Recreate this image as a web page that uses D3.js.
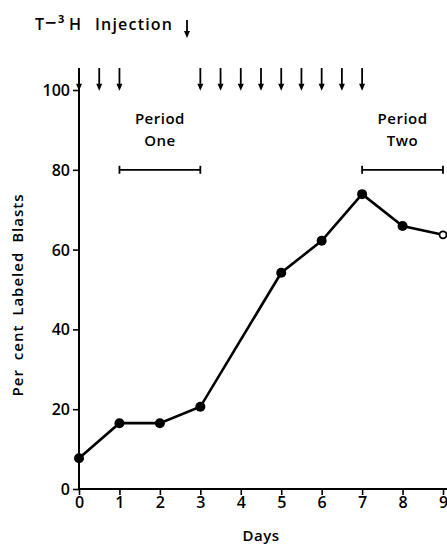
<!DOCTYPE html>
<html><head><meta charset="utf-8">
<script src="https://cdn.jsdelivr.net/npm/d3@7"></script>
<style>body{margin:0;background:#fff}svg{display:block}text{font-family:"Open Sans",sans-serif;fill:#000}</style>
</head><body><svg id="c" width="447" height="548"></svg>
<script>
const days = [0,1,2,3,5,6,7,8,9];
const labeled = [7.7,16.5,16.5,20.6,54.2,62.2,73.9,65.9,63.7];
const openPoint = [false,false,false,false,false,false,false,false,true];
const injections = [0,0.5,1,3,3.5,4,4.5,5,5.5,6,6.5,7];
const periods = [{name:["Period","One"],from:1,to:3,level:80},{name:["Period","Two"],from:7,to:9,level:80}];
const xTicks = [0,1,2,3,4,5,6,7,8,9];
const yTicks = [0,20,40,60,80,100];

const svg = d3.select("#c");
const x = d3.scaleLinear().domain([0,9]).range([79,443]);
const y = d3.scaleLinear().domain([0,100]).range([489,90]);

// axes
const yAxis = d3.axisLeft(y).tickValues(yTicks).tickSize(6).tickPadding(3).tickFormat(d3.format("d"));
const gy = svg.append("g").attr("transform",`translate(${x(0)},0)`).call(yAxis);
gy.select(".domain").remove();
gy.selectAll(".tick line").attr("stroke","#000").attr("stroke-width",1.6);
gy.selectAll(".tick text").attr("font-size",16).attr("font-weight",600).attr("dy","0.34em");
svg.append("line").attr("x1",x(0)).attr("x2",x(0)).attr("y1",y(0)+1).attr("y2",y(105.5))
  .attr("stroke","#000").attr("stroke-width",2);

const xAxis = d3.axisBottom(x).tickValues(xTicks).tickSize(6).tickPadding(2).tickFormat(d3.format("d"));
const gx = svg.append("g").attr("transform",`translate(0,${y(0)})`).call(xAxis);
gx.select(".domain").remove();
gx.selectAll(".tick line").attr("stroke","#000").attr("stroke-width",1.6);
gx.selectAll(".tick text").attr("font-size",16).attr("font-weight",600);
svg.append("line").attr("x1",x(0)-1).attr("x2",447).attr("y1",y(0)).attr("y2",y(0))
  .attr("stroke","#000").attr("stroke-width",2);

// axis titles
svg.append("text").attr("x",261).attr("y",541).attr("text-anchor","middle")
  .attr("font-size",15).attr("font-weight",600).attr("letter-spacing",0.5).text("Days");
svg.append("text").attr("transform","translate(23,295) rotate(-90)").attr("text-anchor","middle")
  .attr("font-size",15).attr("font-weight",600).attr("letter-spacing",1).attr("word-spacing",4)
  .text("Per cent Labeled Blasts");

// injection arrows
function arrow(cx, top, tip){
  svg.append("line").attr("x1",cx).attr("x2",cx).attr("y1",top).attr("y2",tip-5)
    .attr("stroke","#000").attr("stroke-width",1.8);
  svg.append("path").attr("d",`M${cx-3},${tip-7}L${cx+3},${tip-7}L${cx},${tip}Z`).attr("fill","#000");
}
injections.forEach(d => arrow(x(d), y(105.5), y(99.8)));

// legend
const lg = svg.append("g").attr("font-size",16).attr("font-weight",600);
lg.append("text").attr("x",35).attr("y",30).text("T");
lg.append("text").attr("x",45).attr("y",30).attr("font-size",20).text("\u2212");
lg.append("text").attr("x",58).attr("y",23).attr("font-size",11).attr("font-weight",700).text("3");
lg.append("text").attr("x",69).attr("y",30).text("H");
lg.append("text").attr("x",95).attr("y",30).attr("letter-spacing",1.2).text("Injection");
arrow(187, 20, 38);

// periods
periods.forEach(p => {
  const yy = y(p.level);
  svg.append("line").attr("x1",x(p.from)).attr("x2",x(p.to)).attr("y1",yy).attr("y2",yy)
    .attr("stroke","#000").attr("stroke-width",1.8);
  [p.from,p.to].forEach(d => svg.append("line").attr("x1",x(d)).attr("x2",x(d)).attr("y1",yy-4).attr("y2",yy+4)
    .attr("stroke","#000").attr("stroke-width",1.8));
  const t = svg.append("text").attr("text-anchor","middle").attr("font-size",15).attr("font-weight",600)
    .attr("letter-spacing",0.5);
  const cx = x((p.from+p.to)/2);
  t.append("tspan").attr("x",cx).attr("y",124).text(p.name[0]);
  t.append("tspan").attr("x",cx).attr("y",146).text(p.name[1]);
});

// data line
const pts = days.map((d,i)=>({d, v: labeled[i], open: openPoint[i]}));
svg.append("path").datum(pts)
  .attr("d", d3.line().x(p=>x(p.d)).y(p=>y(p.v)))
  .attr("fill","none").attr("stroke","#000").attr("stroke-width",2.6);
svg.selectAll("circle.pt").data(pts).join("circle").attr("class","pt")
  .attr("cx",p=>x(p.d)).attr("cy",p=>y(p.v)).attr("r",p=>p.open?3.5:5)
  .attr("fill",p=>p.open?"#fff":"#000").attr("stroke","#000").attr("stroke-width",p=>p.open?1.8:0);
</script></body></html>
